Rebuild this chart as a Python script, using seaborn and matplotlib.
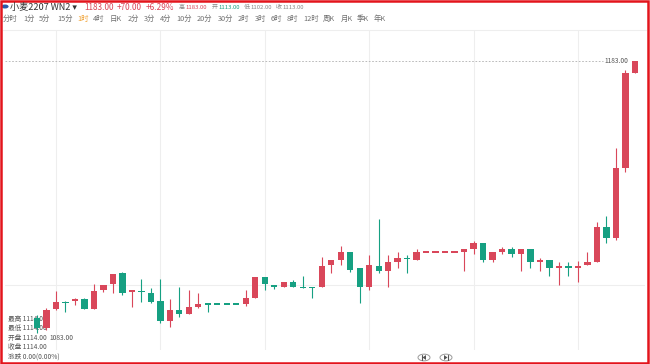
import numpy as np
import pandas as pd
import matplotlib
matplotlib.use("Agg")
import matplotlib.pyplot as plt
import seaborn as sns
from matplotlib.patches import Rectangle, Circle, Polygon
from matplotlib.lines import Line2D

# ---------------- data ----------------
opens = [1088.5, 1084.8, 1091.8, 1094.4, 1094.8, 1095.5, 1091.8, 1098.8, 1101.0, 1105.1,
         1098.1, 1098.4, 1097.7, 1094.8, 1087.4, 1091.5, 1090.0, 1092.6, 1093.7, 1093.6,
         1093.6, 1093.6, 1093.7, 1095.9, 1103.6, 1100.6, 1099.9, 1101.8, 1099.9, 1099.9,
         1099.9, 1108.0, 1109.8, 1112.8, 1106.9, 1099.9, 1107.6, 1105.8, 1109.1, 1110.6,
         1109.8, 1112.8, 1112.8, 1112.8, 1112.8, 1112.8, 1113.9, 1116.1, 1109.8, 1112.8,
         1113.9, 1112.0, 1113.9, 1109.1, 1109.8, 1106.9, 1107.6, 1106.9, 1108.0, 1109.1,
         1122.0, 1117.9, 1143.7, 1178.6]
highs = [1089.6, 1092.2, 1098.4, 1094.8, 1095.9, 1095.9, 1101.0, 1100.6, 1104.7, 1105.4,
         1098.8, 1102.9, 1099.5, 1102.9, 1095.5, 1099.9, 1098.8, 1097.7, 1093.7, 1093.6,
         1093.6, 1093.6, 1098.8, 1103.6, 1103.6, 1100.6, 1101.8, 1102.5, 1103.9, 1099.9,
         1111.0, 1109.8, 1115.0, 1112.8, 1106.9, 1111.7, 1124.9, 1111.7, 1112.8, 1111.7,
         1113.9, 1112.8, 1112.8, 1112.8, 1112.8, 1113.9, 1116.8, 1116.1, 1112.8, 1114.6,
         1114.6, 1113.9, 1113.9, 1110.6, 1109.8, 1109.1, 1109.1, 1109.5, 1112.8, 1123.8,
         1126.0, 1151.0, 1179.7, 1183.0]
lows = [1083.0, 1084.1, 1091.5, 1090.7, 1093.3, 1091.8, 1091.8, 1098.1, 1097.7, 1097.0,
        1092.6, 1094.4, 1094.0, 1086.7, 1085.2, 1088.9, 1090.0, 1092.2, 1090.7, 1093.6,
        1093.6, 1093.6, 1093.0, 1095.9, 1098.8, 1099.2, 1099.9, 1099.9, 1099.5, 1095.9,
        1099.9, 1105.1, 1108.0, 1105.4, 1094.0, 1098.8, 1105.1, 1099.9, 1106.9, 1105.1,
        1109.8, 1112.8, 1112.8, 1112.8, 1112.8, 1105.8, 1112.0, 1109.1, 1109.1, 1112.0,
        1111.0, 1105.8, 1106.9, 1105.8, 1103.9, 1100.6, 1103.9, 1101.8, 1108.0, 1109.1,
        1116.1, 1117.2, 1142.2, 1178.6]
closes = [1084.8, 1091.5, 1094.4, 1094.0, 1095.5, 1091.8, 1098.4, 1100.6, 1104.7, 1097.7,
          1098.8, 1098.1, 1094.4, 1087.4, 1091.5, 1090.0, 1092.6, 1093.7, 1093.5, 1093.6,
          1093.6, 1093.6, 1095.9, 1103.6, 1101.0, 1099.9, 1101.8, 1099.9, 1099.7, 1099.7,
          1107.6, 1109.8, 1112.8, 1106.2, 1099.9, 1108.0, 1105.8, 1109.1, 1110.6, 1110.2,
          1112.8, 1112.8, 1112.8, 1112.8, 1112.8, 1113.9, 1116.1, 1109.8, 1112.8, 1113.9,
          1112.0, 1113.9, 1109.1, 1109.8, 1106.9, 1107.6, 1106.9, 1107.6, 1109.1, 1122.0,
          1117.9, 1143.7, 1178.6, 1183.0]

title_name = "小麦2207 WN2 ▾"
last_price = 1183.00
change = "+70.00"
change_pct = "+6.29%"
stat_labels = ["高", "开", "低", "收"]
stat_values = ["1183.00", "1113.00", "1102.00", "1113.00"]
periods = ["分时", "1分", "5分", "15分", "1时", "4时", "日K", "2分", "3分", "4分", "10分",
           "20分", "30分", "2时", "3时", "6时", "8时", "12时", "周K", "月K", "季K", "年K"]
selected_period = "1时"
info_lines = ["最高 1114.00", "最低 1114.00", "开盘 1114.00", "收盘 1114.00", "涨跌 0.00(0.00%)"]
low_label = "1083.00"

# ---------------- style ----------------
sns.set_style("white")
plt.rcParams["font.family"] = ["Noto Sans CJK SC", "DejaVu Sans"]

RED = "#d9475a"
GREEN = "#16a082"
W, H = 650, 364

df = pd.DataFrame({"open": opens, "high": highs, "low": lows, "close": closes})
df["idx"] = np.arange(len(df))
up = []
prev = True
for o, c in zip(df["open"], df["close"]):
    if c > o:
        prev = True
    elif c < o:
        prev = False
    up.append(prev)
df["up"] = up
df["color"] = np.where(df["up"], RED, GREEN)

fig = plt.figure(figsize=(W / 100, H / 100), dpi=100)
fig.patch.set_facecolor("white")

def fx(x):
    return x / W

def fy(y):
    return 1 - y / H

# chart axes: pixel x 5..645, y 30..350
ax = fig.add_axes([fx(5), fy(350), 640 / W, 320 / H])
ax.set_facecolor("white")
step = 9.49
ax.set_xlim(-(37 - 5) / step, (645 - 37) / step)
ax.set_ylim(1183 - (350 - 61) / 2.72, 1183 + (61 - 30) / 2.72)
for s in ax.spines.values():
    s.set_visible(False)
ax.set_xticks([])
ax.set_yticks([])

# grid
for k in range(6):
    ax.axvline(2.0 + 11 * k, color="#eeeeee", lw=0.8, zorder=0)
ax.axhline(1100.5, color="#eeeeee", lw=0.8, zorder=0)

# info overlay (under candles)
for j, t in enumerate(info_lines):
    ax.text(fx(8), fy(319 + 9.3 * j), t, transform=fig.transFigure, fontsize=4.8,
            color="#555555", va="center", ha="left", zorder=1)
ax.text(fx(49), fy(338), low_label, transform=fig.transFigure, fontsize=4.8,
        color="#555555", va="center", ha="left", zorder=1)

# wicks and bodies
ax.vlines(df["idx"], df["low"], df["high"], colors=df["color"], lw=0.8, zorder=3)
body_bottom = np.minimum(df["open"], df["close"])
body_h = np.maximum(np.abs(df["close"] - df["open"]), 0.5)
body_bottom = np.where(np.abs(df["close"] - df["open"]) < 0.5,
                       (df["open"] + df["close"]) / 2 - 0.25, body_bottom)
ax.bar(df["idx"], body_h, bottom=body_bottom, width=0.66, color=df["color"],
       edgecolor="none", zorder=4)

# last price dashed line and label
ax.plot([ax.get_xlim()[0], 59.6], [last_price, last_price], ls=(0, (2, 2)),
        color="#b0b0b0", lw=0.6, zorder=2)
ax.text(59.75, last_price, f"{last_price:.2f}", fontsize=4.8, color="#555555",
        va="center", ha="left", zorder=5)

# ---------------- header ----------------
fig.patches.append(Circle((fx(5), fy(6.5)), 3.6 / W, transform=fig.transFigure,
                          facecolor="#2a5caa", edgecolor="none"))
fig.text(fx(10), fy(7.5), title_name, fontsize=6.6, color="#333333", va="center", ha="left")
fig.text(fx(84), fy(7.5), f"{last_price:.2f}", fontsize=5.9, color=RED, va="center", ha="left")
fig.text(fx(117), fy(7.5), change, fontsize=5.9, color=RED, va="center", ha="left")
fig.text(fx(146), fy(7.5), change_pct, fontsize=5.9, color=RED, va="center", ha="left")
stat_x = [179, 212, 244, 276]
stat_colors = [RED, GREEN, "#888888", "#888888"]
for x0, lab, val, c in zip(stat_x, stat_labels, stat_values, stat_colors):
    fig.text(fx(x0), fy(7.5), lab, fontsize=4.3, color="#888888", va="center", ha="left")
    fig.text(fx(x0 + 6), fy(7.5), val, fontsize=4.3, color=c, va="center", ha="left")

period_x = [3, 23, 39, 57, 77, 93, 110, 128, 144, 160, 176, 197, 218, 238, 255, 271,
            287, 303, 323, 341, 357, 374]
for x0, p in zip(period_x, periods):
    fig.text(fx(x0), fy(19), p, fontsize=5.3,
             color="#f0a030" if p == selected_period else "#707070",
             va="center", ha="left")

fig.add_artist(Line2D([fx(3), fx(646)], [fy(29.5), fy(29.5)], color="#eeeeee", lw=0.8,
                      transform=fig.transFigure))

# ---------------- bottom buttons ----------------
for cx, flip in [(424, False), (446, True)]:
    fig.patches.append(Circle((fx(cx), fy(357.5)), 6 / W, transform=fig.transFigure,
                              facecolor="white", edgecolor="#9a9a9a", lw=0.7))
    s = -1 if flip else 1
    bar_x = cx - 2 * s
    fig.add_artist(Line2D([fx(bar_x), fx(bar_x)], [fy(355), fy(360)], color="#555555",
                          lw=0.8, transform=fig.transFigure))
    tri = [(fx(cx - 1.5 * s), fy(357.5)), (fx(cx + 2 * s), fy(355)), (fx(cx + 2 * s), fy(360))]
    fig.patches.append(Polygon(tri, closed=True, transform=fig.transFigure,
                               facecolor="#555555", edgecolor="none"))

# red frame
fig.patches.append(Rectangle((fx(1), fy(362.5)), 646.5 / W, 361.5 / H, transform=fig.transFigure,
                             fill=False, edgecolor="#e3141c", lw=1.8))

fig.savefig("out.png", dpi=100, facecolor="white")
